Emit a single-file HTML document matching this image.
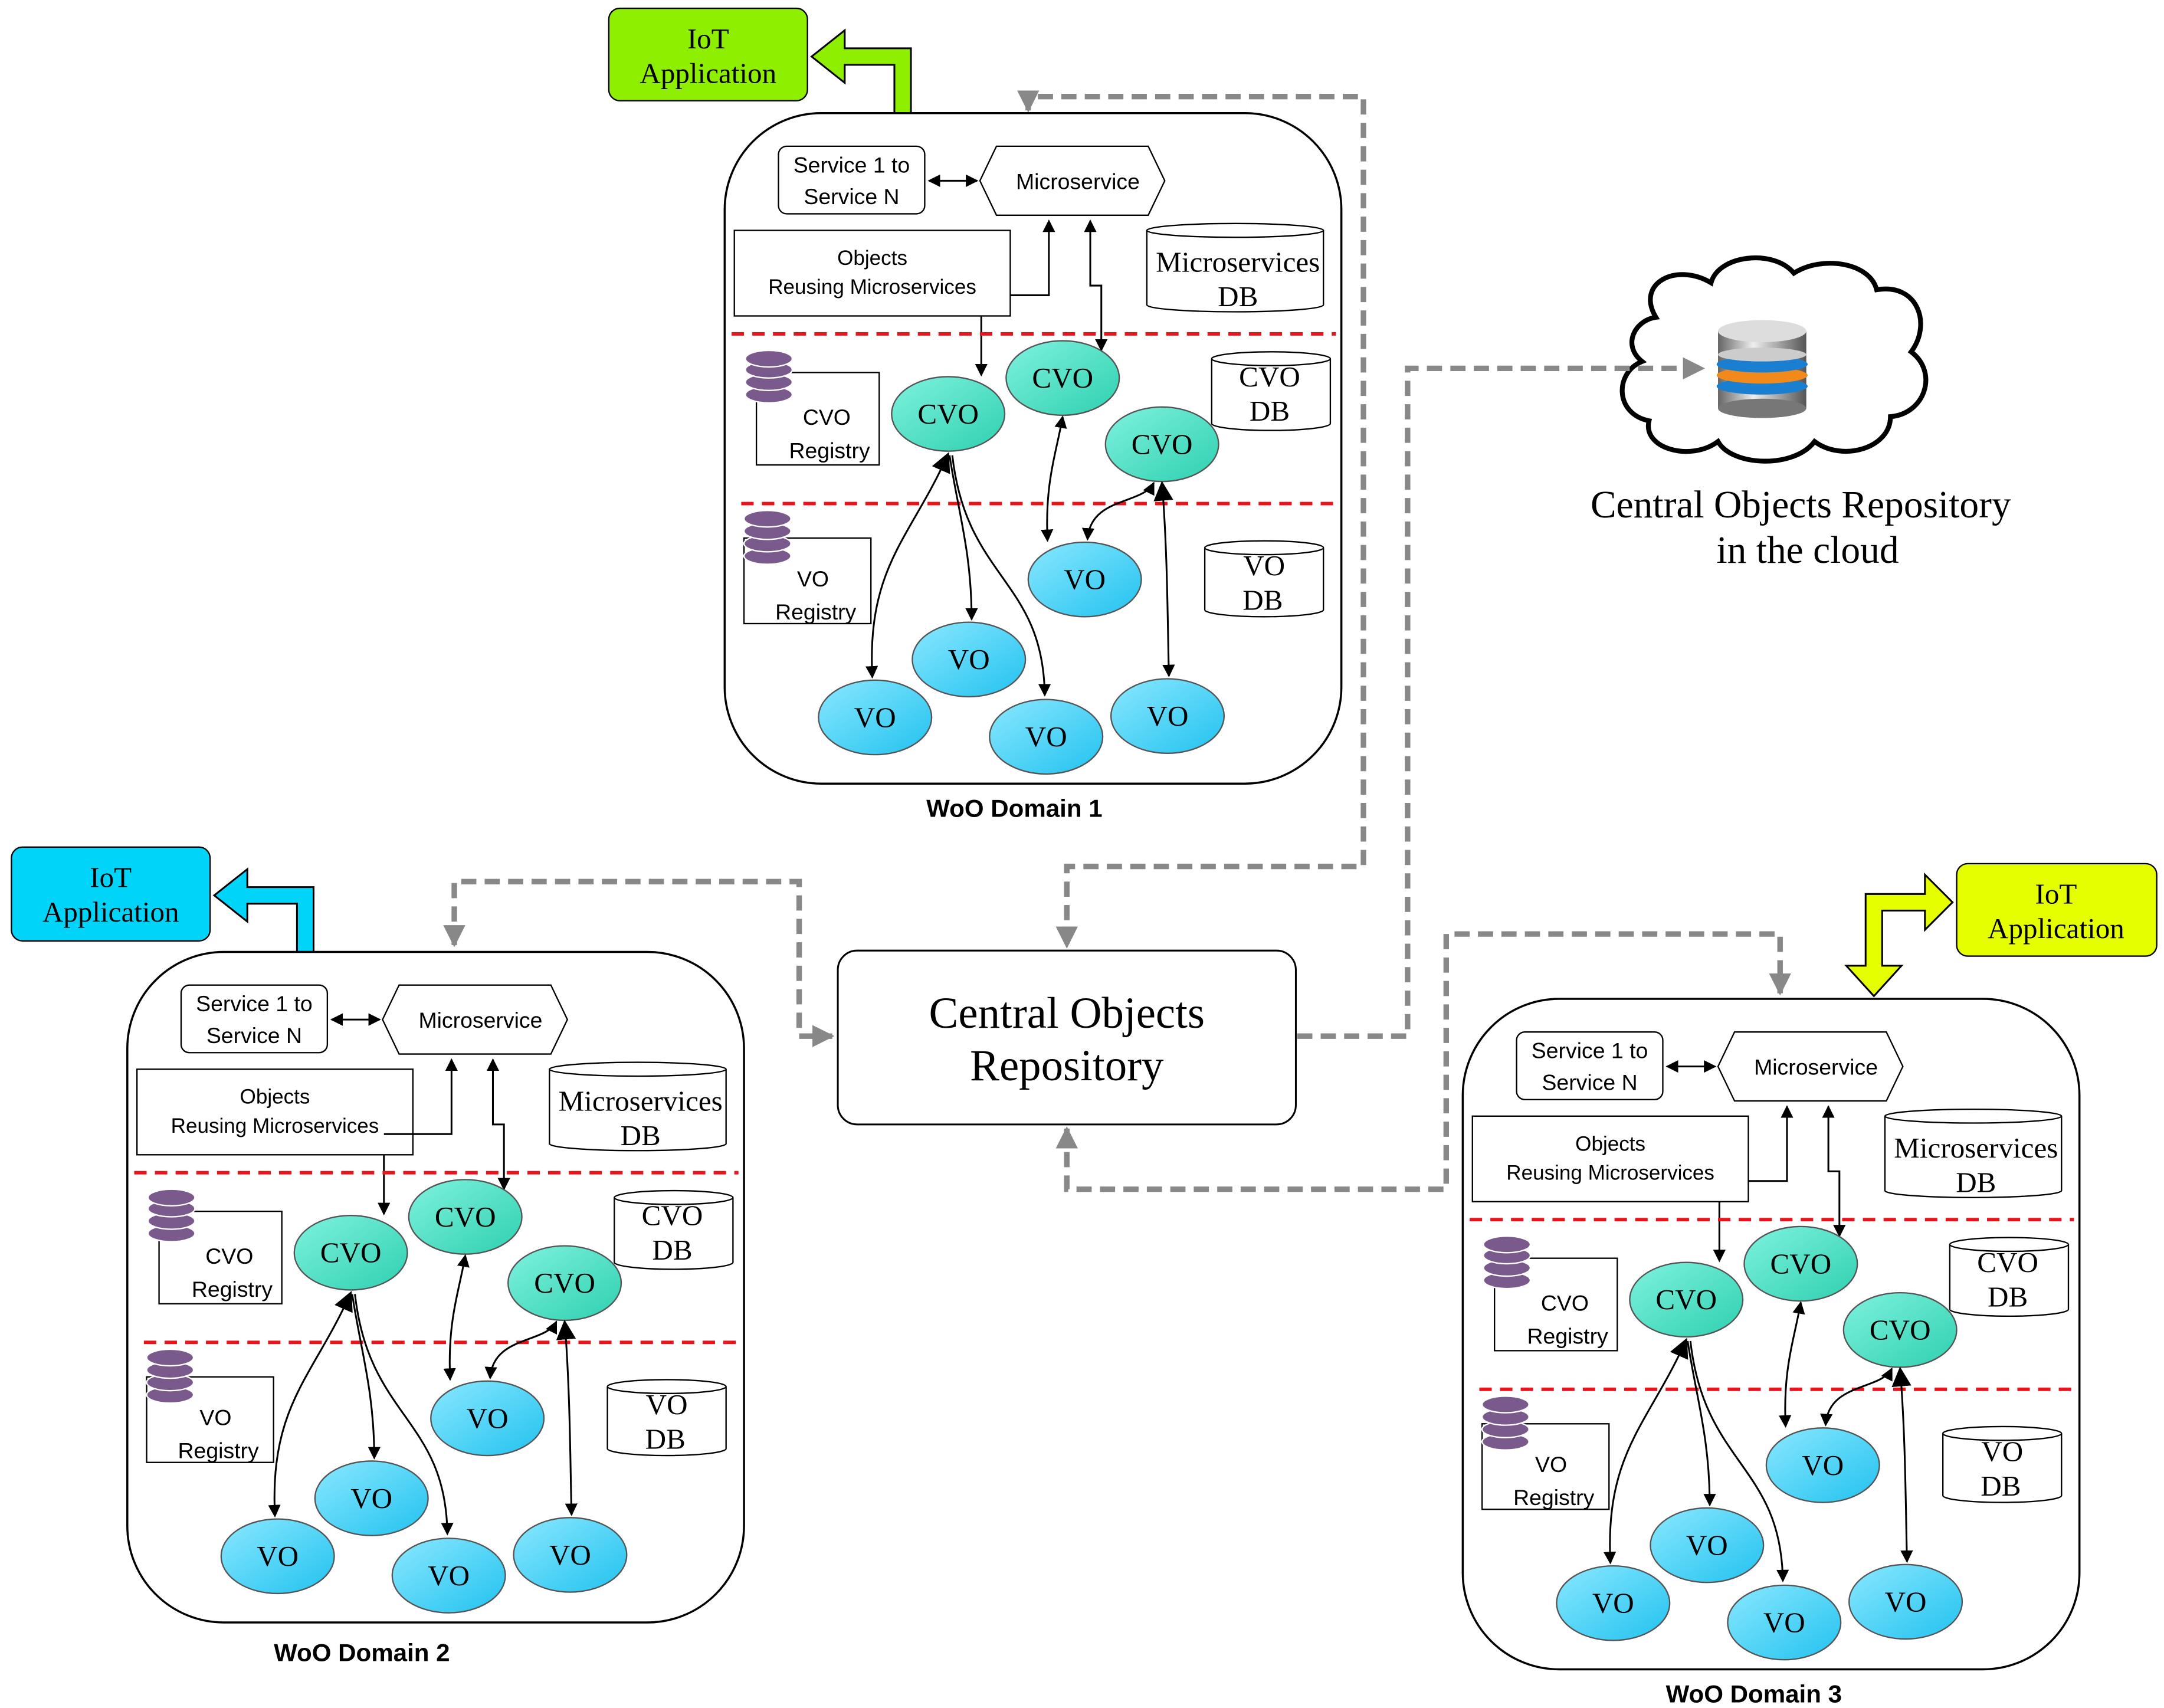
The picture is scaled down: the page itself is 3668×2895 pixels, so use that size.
<!DOCTYPE html>
<html><head><meta charset="utf-8"><style>html,body{margin:0;padding:0;background:#fff}svg{display:block}</style></head>
<body>
<svg xmlns="http://www.w3.org/2000/svg" width="3668" height="2895" viewBox="0 0 1568 1238">
<defs>
<marker id="a" viewBox="0 0 10 10" refX="9" refY="5" markerWidth="7" markerHeight="7" orient="auto-start-reverse"><path d="M0,0 L10,5 L0,10 z" fill="#000"/></marker>
<marker id="g" viewBox="0 0 10 10" refX="9" refY="5" markerWidth="4" markerHeight="4" orient="auto-start-reverse"><path d="M0,0 L10,5 L0,10 z" fill="#888"/></marker>
<marker id="b" viewBox="0 0 10 10" refX="9" refY="5" markerWidth="11" markerHeight="11" orient="auto-start-reverse"><path d="M0,0 L10,5 L0,10 z" fill="#000"/></marker>
<linearGradient id="cvo" x1="0" y1="0" x2="1" y2="1"><stop offset="0" stop-color="#7ff2de"/><stop offset="1" stop-color="#2fd0b0"/></linearGradient>
<linearGradient id="vo" x1="0" y1="0" x2="1" y2="1"><stop offset="0" stop-color="#8ae8ff"/><stop offset="1" stop-color="#22c2ef"/></linearGradient>
<linearGradient id="silver" x1="0" y1="0" x2="1" y2="0"><stop offset="0" stop-color="#666"/><stop offset="0.4" stop-color="#eee"/><stop offset="1" stop-color="#555"/></linearGradient>
</defs>
<style>
.s{font-family:"Liberation Sans",sans-serif;font-size:16px;text-anchor:middle}
.ss{font-family:"Liberation Sans",sans-serif;font-size:15px;text-anchor:middle}
.r{font-family:"Liberation Serif",serif;font-size:21px;text-anchor:middle}
.l{fill:none;stroke:#000;stroke-width:1.3}
.rd{stroke:#e8141c;stroke-width:2.5;stroke-dasharray:9 6}
.gd{fill:none;stroke:#888;stroke-width:4;stroke-dasharray:11 6}
</style>

<!-- cloud -->
<path d="M1200,230 C1185,205 1215,190 1240,205 C1245,185 1285,180 1300,198 C1320,185 1355,190 1360,210 C1390,205 1400,235 1385,255 C1405,270 1395,300 1370,302 C1370,325 1335,335 1315,320 C1300,340 1255,338 1245,320 C1225,335 1190,325 1195,305 C1170,300 1170,270 1190,262 C1175,250 1185,232 1200,230 Z" fill="#fff" stroke="#000" stroke-width="3.5"/>
<rect x="1245" y="240" width="64" height="56" fill="url(#silver)"/>
<ellipse cx="1277" cy="296" rx="32" ry="7" fill="#777"/>
<ellipse cx="1277" cy="280" rx="33" ry="6" fill="#1b7fd1"/>
<ellipse cx="1277" cy="272" rx="33" ry="6" fill="#f18a1a"/>
<ellipse cx="1277" cy="264" rx="33" ry="6" fill="#1b7fd1"/>
<ellipse cx="1277" cy="257" rx="32" ry="5" fill="#ccc"/>
<ellipse cx="1277" cy="240" rx="32" ry="8" fill="#ddd"/>
<text class="r" style="font-size:28px" x="1305" y="375">Central Objects Repository</text>
<text class="r" style="font-size:28px" x="1310" y="408">in the cloud</text>

<!-- gray dashed connectors -->
<path class="gd" d="M745,80 L745,70 L988,70 L988,628 L773,628 L773,686" marker-start="url(#g)" marker-end="url(#g)"/>
<path class="gd" d="M329,685 L329,639 L579,639 L579,751 L603,751" marker-start="url(#g)" marker-end="url(#g)"/>
<path class="gd" d="M940,751 L1020,751 L1020,267 L1234,267" marker-end="url(#g)"/>
<path class="gd" d="M773,818 L773,862 L1048,862 L1048,677 L1290,677 L1290,720" marker-start="url(#g)" marker-end="url(#g)"/>

<!-- central repository -->
<rect x="607" y="689" width="332" height="126" rx="14" fill="#fff" stroke="#000" stroke-width="1.3"/>
<text class="r" style="font-size:32px" x="773" y="745">Central Objects</text>
<text class="r" style="font-size:32px" x="773" y="783">Repository</text>

<!-- IoT apps -->
<rect x="441" y="6" width="144" height="67" rx="8" fill="#8ef000" stroke="#000"/>
<text class="r" x="513" y="35">IoT</text><text class="r" x="513" y="60">Application</text>
<polygon points="648,82 660,82 660,35 612,35 612,22 588,41 612,60 612,47 648,47" fill="#8ef000" stroke="#000" stroke-width="1.3"/>

<rect x="8" y="614" width="144" height="68" rx="8" fill="#00d4f8" stroke="#000"/>
<text class="r" x="80" y="643">IoT</text><text class="r" x="80" y="668">Application</text>
<polygon points="215,690 227,690 227,643 179,643 179,630 155,649 179,668 179,655 215,655" fill="#00d4f8" stroke="#000" stroke-width="1.3"/>

<rect x="1418" y="626" width="145" height="67" rx="8" fill="#e6ff00" stroke="#000"/>
<text class="r" x="1490" y="655">IoT</text><text class="r" x="1490" y="680">Application</text>
<polygon points="1358,722 1338,700 1352,700 1352,648 1395,648 1395,634 1415,654 1395,674 1395,660 1364,660 1364,700 1378,700" fill="#e6ff00" stroke="#000" stroke-width="1.3"/>

<!-- DOMAIN 1 -->
<g transform="translate(0,0)">
<rect x="525" y="82" width="447" height="486" rx="70" fill="#fff" stroke="#000" stroke-width="1.5"/>
<rect x="564" y="106" width="106" height="49" rx="6" fill="#fff" stroke="#000"/>
<text class="s" x="617" y="125">Service 1 to</text><text class="s" x="617" y="148">Service N</text>
<path class="l" d="M673,131 L708,131" marker-start="url(#a)" marker-end="url(#a)"/>
<polygon points="710,131 722,106 832,106 844,131 832,156 722,156" fill="#fff" stroke="#000"/>
<text class="s" x="781" y="137">Microservice</text>
<rect x="532" y="167" width="200" height="62" fill="#fff" stroke="#000"/>
<text class="ss" x="632" y="192">Objects</text><text class="ss" x="632" y="213">Reusing Microservices</text>
<path class="l" d="M732,214 L760,214 L760,160" marker-end="url(#a)"/>
<path class="l" d="M790,160 L790,207 L798,207 L798,254" marker-start="url(#a)" marker-end="url(#a)"/>
<path class="l" d="M711,229 L711,272" marker-end="url(#a)"/>
<path d="M831,167 L831,221 A64,5 0 0 0 959,221 L959,167" fill="#fff" stroke="#000"/>
<ellipse cx="895" cy="167" rx="64" ry="5" fill="#fff" stroke="#000"/>
<text class="r" x="897" y="197">Microservices</text><text class="r" x="897" y="222">DB</text>
<line class="rd" x1="530" y1="242" x2="968" y2="242"/>
<line class="rd" x1="537" y1="365" x2="968" y2="365"/>
<rect x="548" y="270" width="89" height="67" fill="#fff" stroke="#000"/>
<g fill="#7a5a8c" stroke="#fff" stroke-width="1"><ellipse cx="557" cy="286" rx="17" ry="6"/><ellipse cx="557" cy="277" rx="17" ry="6"/><ellipse cx="557" cy="268" rx="17" ry="6"/><ellipse cx="557" cy="260" rx="17" ry="6"/></g>
<text class="s" x="599" y="308">CVO</text><text class="s" x="601" y="332">Registry</text>
<rect x="539" y="390" width="92" height="62" fill="#fff" stroke="#000"/>
<g fill="#7a5a8c" stroke="#fff" stroke-width="1"><ellipse cx="556" cy="403" rx="17" ry="6"/><ellipse cx="556" cy="394" rx="17" ry="6"/><ellipse cx="556" cy="385" rx="17" ry="6"/><ellipse cx="556" cy="376" rx="17" ry="6"/></g>
<text class="s" x="589" y="425">VO</text><text class="s" x="591" y="449">Registry</text>
<path d="M878,260 L878,307 A43,5 0 0 0 964,307 L964,260" fill="#fff" stroke="#000"/>
<ellipse cx="921" cy="260" rx="43" ry="5" fill="#fff" stroke="#000"/>
<text class="r" x="920" y="280">CVO</text><text class="r" x="920" y="305">DB</text>
<path d="M873,397 L873,442 A43,5 0 0 0 959,442 L959,397" fill="#fff" stroke="#000"/>
<ellipse cx="916" cy="397" rx="43" ry="5" fill="#fff" stroke="#000"/>
<text class="r" x="916" y="417">VO</text><text class="r" x="915" y="442">DB</text>
<ellipse cx="687" cy="300" rx="41" ry="27" fill="url(#cvo)" stroke="#555"/><text class="r" x="687" y="307">CVO</text>
<ellipse cx="770" cy="274" rx="41" ry="27" fill="url(#cvo)" stroke="#555"/><text class="r" x="770" y="281">CVO</text>
<ellipse cx="842" cy="322" rx="41" ry="27" fill="url(#cvo)" stroke="#555"/><text class="r" x="842" y="329">CVO</text>
<ellipse cx="786" cy="420" rx="41" ry="27" fill="url(#vo)" stroke="#555"/><text class="r" x="786" y="427">VO</text>
<ellipse cx="702" cy="478" rx="41" ry="27" fill="url(#vo)" stroke="#555"/><text class="r" x="702" y="485">VO</text>
<ellipse cx="634" cy="520" rx="41" ry="27" fill="url(#vo)" stroke="#555"/><text class="r" x="634" y="527">VO</text>
<ellipse cx="758" cy="534" rx="41" ry="27" fill="url(#vo)" stroke="#555"/><text class="r" x="758" y="541">VO</text>
<ellipse cx="846" cy="519" rx="41" ry="27" fill="url(#vo)" stroke="#555"/><text class="r" x="846" y="526">VO</text>
<path class="l" d="M687,329 C660,390 628,410 632,491" marker-start="url(#b)" marker-end="url(#a)"/>
<path class="l" d="M688,330 C694,370 704,400 704,449" marker-end="url(#a)"/>
<path class="l" d="M690,330 C700,420 756,420 757,504" marker-end="url(#a)"/>
<path class="l" d="M770,302 C765,330 757,350 759,392" marker-start="url(#a)" marker-end="url(#a)"/>
<path class="l" d="M842,350 C846,400 846,450 847,490" marker-start="url(#b)" marker-end="url(#a)"/>
<path class="l" d="M836,350 C828,366 790,360 788,391" marker-start="url(#a)" marker-end="url(#a)"/>
<text x="735" y="592" style="font-family:'Liberation Sans',sans-serif;font-size:18px;font-weight:bold;text-anchor:middle">WoO Domain 1</text>
</g>

<!-- DOMAIN 2 -->
<g transform="translate(-433,608)">
<rect x="525" y="82" width="447" height="486" rx="70" fill="#fff" stroke="#000" stroke-width="1.5"/>
<rect x="564" y="106" width="106" height="49" rx="6" fill="#fff" stroke="#000"/>
<text class="s" x="617" y="125">Service 1 to</text><text class="s" x="617" y="148">Service N</text>
<path class="l" d="M673,131 L708,131" marker-start="url(#a)" marker-end="url(#a)"/>
<polygon points="710,131 722,106 832,106 844,131 832,156 722,156" fill="#fff" stroke="#000"/>
<text class="s" x="781" y="137">Microservice</text>
<rect x="532" y="167" width="200" height="62" fill="#fff" stroke="#000"/>
<text class="ss" x="632" y="192">Objects</text><text class="ss" x="632" y="213">Reusing Microservices</text>
<path class="l" d="M711,214 L760,214 L760,160" marker-end="url(#a)"/>
<path class="l" d="M790,160 L790,207 L798,207 L798,254" marker-start="url(#a)" marker-end="url(#a)"/>
<path class="l" d="M711,229 L711,272" marker-end="url(#a)"/>
<path d="M831,167 L831,221 A64,5 0 0 0 959,221 L959,167" fill="#fff" stroke="#000"/>
<ellipse cx="895" cy="167" rx="64" ry="5" fill="#fff" stroke="#000"/>
<text class="r" x="897" y="197">Microservices</text><text class="r" x="897" y="222">DB</text>
<line class="rd" x1="530" y1="242" x2="968" y2="242"/>
<line class="rd" x1="537" y1="365" x2="968" y2="365"/>
<rect x="548" y="270" width="89" height="67" fill="#fff" stroke="#000"/>
<g fill="#7a5a8c" stroke="#fff" stroke-width="1"><ellipse cx="557" cy="286" rx="17" ry="6"/><ellipse cx="557" cy="277" rx="17" ry="6"/><ellipse cx="557" cy="268" rx="17" ry="6"/><ellipse cx="557" cy="260" rx="17" ry="6"/></g>
<text class="s" x="599" y="308">CVO</text><text class="s" x="601" y="332">Registry</text>
<rect x="539" y="390" width="92" height="62" fill="#fff" stroke="#000"/>
<g fill="#7a5a8c" stroke="#fff" stroke-width="1"><ellipse cx="556" cy="403" rx="17" ry="6"/><ellipse cx="556" cy="394" rx="17" ry="6"/><ellipse cx="556" cy="385" rx="17" ry="6"/><ellipse cx="556" cy="376" rx="17" ry="6"/></g>
<text class="s" x="589" y="425">VO</text><text class="s" x="591" y="449">Registry</text>
<path d="M878,260 L878,307 A43,5 0 0 0 964,307 L964,260" fill="#fff" stroke="#000"/>
<ellipse cx="921" cy="260" rx="43" ry="5" fill="#fff" stroke="#000"/>
<text class="r" x="920" y="280">CVO</text><text class="r" x="920" y="305">DB</text>
<path d="M873,397 L873,442 A43,5 0 0 0 959,442 L959,397" fill="#fff" stroke="#000"/>
<ellipse cx="916" cy="397" rx="43" ry="5" fill="#fff" stroke="#000"/>
<text class="r" x="916" y="417">VO</text><text class="r" x="915" y="442">DB</text>
<ellipse cx="687" cy="300" rx="41" ry="27" fill="url(#cvo)" stroke="#555"/><text class="r" x="687" y="307">CVO</text>
<ellipse cx="770" cy="274" rx="41" ry="27" fill="url(#cvo)" stroke="#555"/><text class="r" x="770" y="281">CVO</text>
<ellipse cx="842" cy="322" rx="41" ry="27" fill="url(#cvo)" stroke="#555"/><text class="r" x="842" y="329">CVO</text>
<ellipse cx="786" cy="420" rx="41" ry="27" fill="url(#vo)" stroke="#555"/><text class="r" x="786" y="427">VO</text>
<ellipse cx="702" cy="478" rx="41" ry="27" fill="url(#vo)" stroke="#555"/><text class="r" x="702" y="485">VO</text>
<ellipse cx="634" cy="520" rx="41" ry="27" fill="url(#vo)" stroke="#555"/><text class="r" x="634" y="527">VO</text>
<ellipse cx="758" cy="534" rx="41" ry="27" fill="url(#vo)" stroke="#555"/><text class="r" x="758" y="541">VO</text>
<ellipse cx="846" cy="519" rx="41" ry="27" fill="url(#vo)" stroke="#555"/><text class="r" x="846" y="526">VO</text>
<path class="l" d="M687,329 C660,390 628,410 632,491" marker-start="url(#b)" marker-end="url(#a)"/>
<path class="l" d="M688,330 C694,370 704,400 704,449" marker-end="url(#a)"/>
<path class="l" d="M690,330 C700,420 756,420 757,504" marker-end="url(#a)"/>
<path class="l" d="M770,302 C765,330 757,350 759,392" marker-start="url(#a)" marker-end="url(#a)"/>
<path class="l" d="M842,350 C846,400 846,450 847,490" marker-start="url(#b)" marker-end="url(#a)"/>
<path class="l" d="M836,350 C828,366 790,360 788,391" marker-start="url(#a)" marker-end="url(#a)"/>
<text x="695" y="596" style="font-family:'Liberation Sans',sans-serif;font-size:18px;font-weight:bold;text-anchor:middle">WoO Domain 2</text>
</g>

<!-- DOMAIN 3 -->
<g transform="translate(535,642)">
<rect x="525" y="82" width="447" height="486" rx="70" fill="#fff" stroke="#000" stroke-width="1.5"/>
<rect x="564" y="106" width="106" height="49" rx="6" fill="#fff" stroke="#000"/>
<text class="s" x="617" y="125">Service 1 to</text><text class="s" x="617" y="148">Service N</text>
<path class="l" d="M673,131 L708,131" marker-start="url(#a)" marker-end="url(#a)"/>
<polygon points="710,131 722,106 832,106 844,131 832,156 722,156" fill="#fff" stroke="#000"/>
<text class="s" x="781" y="137">Microservice</text>
<rect x="532" y="167" width="200" height="62" fill="#fff" stroke="#000"/>
<text class="ss" x="632" y="192">Objects</text><text class="ss" x="632" y="213">Reusing Microservices</text>
<path class="l" d="M732,214 L760,214 L760,160" marker-end="url(#a)"/>
<path class="l" d="M790,160 L790,207 L798,207 L798,254" marker-start="url(#a)" marker-end="url(#a)"/>
<path class="l" d="M711,229 L711,272" marker-end="url(#a)"/>
<path d="M831,167 L831,221 A64,5 0 0 0 959,221 L959,167" fill="#fff" stroke="#000"/>
<ellipse cx="895" cy="167" rx="64" ry="5" fill="#fff" stroke="#000"/>
<text class="r" x="897" y="197">Microservices</text><text class="r" x="897" y="222">DB</text>
<line class="rd" x1="530" y1="242" x2="968" y2="242"/>
<line class="rd" x1="537" y1="365" x2="968" y2="365"/>
<rect x="548" y="270" width="89" height="67" fill="#fff" stroke="#000"/>
<g fill="#7a5a8c" stroke="#fff" stroke-width="1"><ellipse cx="557" cy="286" rx="17" ry="6"/><ellipse cx="557" cy="277" rx="17" ry="6"/><ellipse cx="557" cy="268" rx="17" ry="6"/><ellipse cx="557" cy="260" rx="17" ry="6"/></g>
<text class="s" x="599" y="308">CVO</text><text class="s" x="601" y="332">Registry</text>
<rect x="539" y="390" width="92" height="62" fill="#fff" stroke="#000"/>
<g fill="#7a5a8c" stroke="#fff" stroke-width="1"><ellipse cx="556" cy="403" rx="17" ry="6"/><ellipse cx="556" cy="394" rx="17" ry="6"/><ellipse cx="556" cy="385" rx="17" ry="6"/><ellipse cx="556" cy="376" rx="17" ry="6"/></g>
<text class="s" x="589" y="425">VO</text><text class="s" x="591" y="449">Registry</text>
<path d="M878,260 L878,307 A43,5 0 0 0 964,307 L964,260" fill="#fff" stroke="#000"/>
<ellipse cx="921" cy="260" rx="43" ry="5" fill="#fff" stroke="#000"/>
<text class="r" x="920" y="280">CVO</text><text class="r" x="920" y="305">DB</text>
<path d="M873,397 L873,442 A43,5 0 0 0 959,442 L959,397" fill="#fff" stroke="#000"/>
<ellipse cx="916" cy="397" rx="43" ry="5" fill="#fff" stroke="#000"/>
<text class="r" x="916" y="417">VO</text><text class="r" x="915" y="442">DB</text>
<ellipse cx="687" cy="300" rx="41" ry="27" fill="url(#cvo)" stroke="#555"/><text class="r" x="687" y="307">CVO</text>
<ellipse cx="770" cy="274" rx="41" ry="27" fill="url(#cvo)" stroke="#555"/><text class="r" x="770" y="281">CVO</text>
<ellipse cx="842" cy="322" rx="41" ry="27" fill="url(#cvo)" stroke="#555"/><text class="r" x="842" y="329">CVO</text>
<ellipse cx="786" cy="420" rx="41" ry="27" fill="url(#vo)" stroke="#555"/><text class="r" x="786" y="427">VO</text>
<ellipse cx="702" cy="478" rx="41" ry="27" fill="url(#vo)" stroke="#555"/><text class="r" x="702" y="485">VO</text>
<ellipse cx="634" cy="520" rx="41" ry="27" fill="url(#vo)" stroke="#555"/><text class="r" x="634" y="527">VO</text>
<ellipse cx="758" cy="534" rx="41" ry="27" fill="url(#vo)" stroke="#555"/><text class="r" x="758" y="541">VO</text>
<ellipse cx="846" cy="519" rx="41" ry="27" fill="url(#vo)" stroke="#555"/><text class="r" x="846" y="526">VO</text>
<path class="l" d="M687,329 C660,390 628,410 632,491" marker-start="url(#b)" marker-end="url(#a)"/>
<path class="l" d="M688,330 C694,370 704,400 704,449" marker-end="url(#a)"/>
<path class="l" d="M690,330 C700,420 756,420 757,504" marker-end="url(#a)"/>
<path class="l" d="M770,302 C765,330 757,350 759,392" marker-start="url(#a)" marker-end="url(#a)"/>
<path class="l" d="M842,350 C846,400 846,450 847,490" marker-start="url(#b)" marker-end="url(#a)"/>
<path class="l" d="M836,350 C828,366 790,360 788,391" marker-start="url(#a)" marker-end="url(#a)"/>
<text x="736" y="592" style="font-family:'Liberation Sans',sans-serif;font-size:18px;font-weight:bold;text-anchor:middle">WoO Domain 3</text>
</g>
</svg>
</body></html>
